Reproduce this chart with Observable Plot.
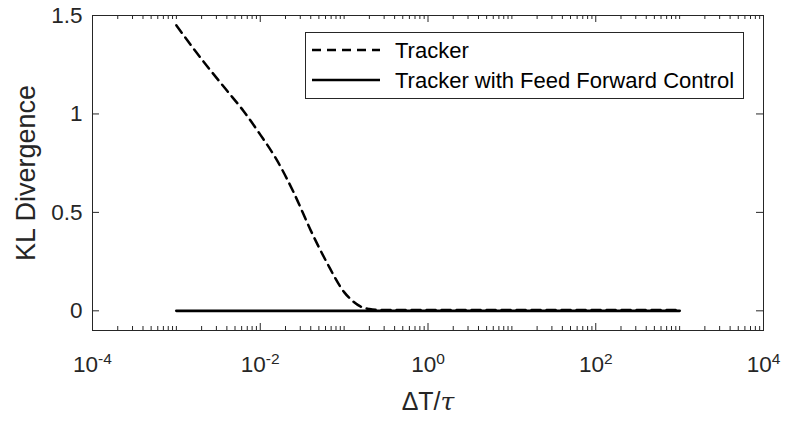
<!DOCTYPE html>
<html><head><meta charset="utf-8">
<script src="https://cdn.jsdelivr.net/npm/d3@7"></script>
<script src="https://cdn.jsdelivr.net/npm/@observablehq/plot@0.6"></script>
<style>
body{margin:0;background:#fff;}
#chart svg{display:block;}
</style>
</head><body><div id="chart"></div>
<script>
// ---- data ----
const trackerX = [0.001, 0.00158, 0.00251, 0.00398, 0.00631, 0.01, 0.0158, 0.0251, 0.0398, 0.0631, 0.1, 0.126, 0.158, 0.2, 0.251, 0.398, 1, 10, 100, 1000];
const trackerY = [1.45, 1.335, 1.225, 1.12, 1.015, 0.895, 0.765, 0.60, 0.41, 0.24, 0.095, 0.05, 0.021, 0.009, 0.005, 0.004, 0.004, 0.004, 0.004, 0.004];
const feedX = [0.001, 1000];
const feedY = [0, 0];
const seriesNames = ["Tracker", "Tracker with Feed Forward Control"];
const xTicks = [1e-4, 1e-2, 1, 1e2, 1e4];
const xTickExp = ["-4", "-2", "0", "2", "4"];
const yTicks = [0, 0.5, 1, 1.5];
const yTickLabels = ["0", "0.5", "1", "1.5"];
const yLabel = "KL Divergence";
const xLabelMain = "\u0394T/";
const xLabelItalic = "\u03C4";

// minor ticks of a log axis (1..9 × 10^e), excluding labelled decades
const minorX = [];
for (let e = -4; e < 4; e++) for (let k = 1; k < 10; k++) {
  const v = k * Math.pow(10, e);
  if (!(k === 1 && e % 2 === 0)) minorX.push(v);
}

const W = 787, H = 422;
const mL = 92, mR = 24, mT = 15, mB = 92;
const fw = W - mL - mR, fh = H - mT - mB;
const axisColor = "#262626";
const font = "'Liberation Sans', Arial, Helvetica, sans-serif";

const tracker = trackerX.map((x, i) => ({x, y: trackerY[i]}));
const feed = feedX.map((x, i) => ({x, y: feedY[i]}));

const plot = Plot.plot({
  width: W, height: H,
  marginLeft: mL, marginRight: mR, marginTop: mT, marginBottom: mB,
  style: {fontFamily: font, background: "#fff", overflow: "visible"},
  x: {type: "log", domain: [1e-4, 1e4], axis: null},
  y: {domain: [-0.1, 1.5], axis: null},
  marks: [
    Plot.line(tracker, {x: "x", y: "y", stroke: "#000", strokeWidth: 2.5, strokeDasharray: "9,6", curve: "monotone-x"}),
    Plot.line(feed, {x: "x", y: "y", stroke: "#000", strokeWidth: 2.8}),
    Plot.frame({stroke: axisColor, strokeWidth: 1}),
    // bottom/top ticks (inward)
    Plot.tickX(minorX, {x: d => d, insetTop: fh - 4, stroke: axisColor}),
    Plot.tickX(minorX, {x: d => d, insetBottom: fh - 4, stroke: axisColor}),
    Plot.tickX(xTicks, {x: d => d, insetTop: fh - 7, stroke: axisColor}),
    Plot.tickX(xTicks, {x: d => d, insetBottom: fh - 7, stroke: axisColor}),
    // left/right ticks
    Plot.tickY(yTicks, {y: d => d, insetRight: fw - 7, stroke: axisColor}),
    Plot.tickY(yTicks, {y: d => d, insetLeft: fw - 7, stroke: axisColor}),
    // tick labels
    Plot.text(xTicks, {x: d => d, frameAnchor: "bottom", dy: 41, text: (d, i) => "10^" + xTickExp[i], fontSize: 22.5, fill: axisColor, className: "xtl"}),
    Plot.text(yTicks, {y: d => d, frameAnchor: "left", dx: -10, textAnchor: "end", text: (d, i) => yTickLabels[i], fontSize: 22.5, fill: axisColor}),
    // axis labels
    Plot.text([yLabel], {frameAnchor: "left", dx: -66, rotate: -90, textAnchor: "middle", text: d => d, fontSize: 27, fill: axisColor}),
    Plot.text([xLabelMain], {frameAnchor: "bottom", dy: 79, text: d => d, fontSize: 25, fill: axisColor, className: "xlab"})
  ]
});

const svg = d3.select(plot);
// superscript exponents
svg.selectAll("g.xtl text").each(function(d, i) {
  const t = d3.select(this);
  t.text(null);
  t.append("tspan").text("10");
  t.append("tspan").attr("dy", "-0.5em").attr("font-size", 15.5).text(xTickExp[i]);
});
// italic tau
svg.selectAll("g.xlab text").each(function() {
  const t = d3.select(this);
  t.text(null);
  t.append("tspan").text(xLabelMain);
  t.append("tspan").attr("font-style", "italic").attr("font-family", "'DejaVu Serif', serif").text(xLabelItalic);
});

// legend box
const lg = svg.append("g").attr("font-family", font).attr("font-size", 22).attr("fill", "#000").attr("text-anchor", "start");
lg.append("rect").attr("x", 305.5).attr("y", 32.5).attr("width", 438).attr("height", 66)
  .attr("fill", "#fff").attr("stroke", axisColor).attr("stroke-width", 1);
const rows = [{dash: "9,6", w: 2.5}, {dash: null, w: 2.5}];
rows.forEach((r, i) => {
  const y = 50 + i * 30;
  const ln = lg.append("line").attr("x1", 312).attr("x2", 380).attr("y1", y).attr("y2", y)
    .attr("stroke", "#000").attr("stroke-width", r.w);
  if (r.dash) ln.attr("stroke-dasharray", r.dash);
  lg.append("text").attr("x", 395).attr("y", y).attr("dy", "0.35em").attr("text-anchor", "start").text(seriesNames[i]);
});

document.getElementById("chart").appendChild(plot);
</script>
</body></html>
